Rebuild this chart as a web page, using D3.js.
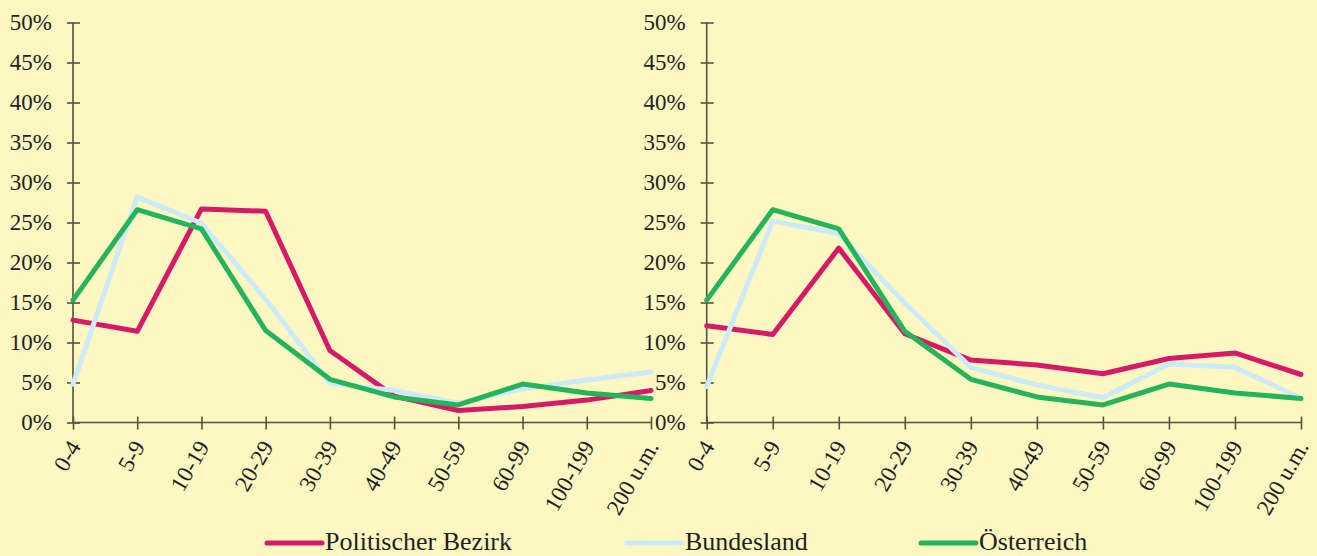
<!DOCTYPE html>
<html>
<head>
    <meta charset="UTF-8" />
    <style>
        body { margin: 0; background: #fdf7c2; }
        svg { display: block; }
        text { font-family: "Liberation Serif", "Times New Roman", serif; fill: #231f20; }
        .axis path, .axis line { stroke: #55523f; stroke-width: 1.6px; }
        .axis text { font-size: 23px; }
        .series { fill: none; stroke-width: 5px; stroke-linejoin: round; stroke-linecap: round; }
        .legend text { font-size: 26px; }
    </style>
    <script src="https://d3js.org/d3.v7.min.js"></script>
</head>
<body>
    <svg width="1317" height="556"></svg>
    <script>
        // age groups (years)
        var categories = ["0-4", "5-9", "10-19", "20-29", "30-39", "40-49", "50-59", "60-99", "100-199", "200 u.m."];
        var yTicks = [0, 5, 10, 15, 20, 25, 30, 35, 40, 45, 50];

        var seriesNames = ["Politischer Bezirk", "Bundesland", "Österreich"];
        var colors = ["#d61a68", "#cdeaf8", "#25b35b"];

        // left chart
        var leftBezirk     = [12.8, 11.4, 26.7, 26.4, 9.0, 3.3, 1.5, 2.0, 2.8, 4.0];
        var leftBundesland = [4.8, 28.2, 24.9, 15.4, 4.9, 4.0, 2.4, 4.2, 5.3, 6.3];
        var leftOesterreich = [15.3, 26.6, 24.2, 11.5, 5.4, 3.2, 2.2, 4.8, 3.7, 3.0];

        // right chart
        var rightBezirk     = [12.1, 11.0, 21.8, 11.1, 7.8, 7.2, 6.1, 8.0, 8.7, 6.0];
        var rightBundesland = [4.5, 25.2, 23.6, 14.9, 6.9, 4.7, 3.1, 7.3, 6.9, 3.0];
        var rightOesterreich = [15.3, 26.6, 24.2, 11.4, 5.4, 3.2, 2.2, 4.8, 3.7, 3.0];

        var svg = d3.select("svg");

        var y = d3.scaleLinear().domain([0, 50]).range([422.5, 22.5]);

        function drawPanel(x0, x1, data) {
            var x = d3.scalePoint().domain(categories).range([x0, x1]);
            var g = svg.append("g");

            var yAxis = g.append("g")
                .attr("class", "axis")
                .attr("transform", "translate(" + x0 + ",0)")
                .call(d3.axisLeft(y).tickValues(yTicks).tickSizeOuter(0).tickSize(6).tickPadding(15)
                    .tickFormat(function(d) { return d + "%"; }));
            yAxis.selectAll(".tick line").attr("x1", -6).attr("x2", 7);
            yAxis.select(".domain").attr("d", "M0," + y(50) + "V" + y(0));

            var xAxis = g.append("g")
                .attr("class", "axis")
                .attr("transform", "translate(0," + y(0) + ")")
                .call(d3.axisBottom(x).tickSizeOuter(0).tickSize(6));
            xAxis.selectAll(".tick line").attr("y1", -6).attr("y2", 7);
            xAxis.select(".domain").attr("d", "M" + x0 + ",0H" + x1);
            xAxis.selectAll(".tick text")
                .attr("text-anchor", "end")
                .attr("y", 0)
                .attr("dy", 0)
                .attr("transform", "translate(8,24) rotate(-60)");

            var line = d3.line()
                .x(function(d, i) { return x(categories[i]); })
                .y(function(d) { return y(d); });

            data.forEach(function(vals, i) {
                g.append("path")
                    .attr("class", "series")
                    .attr("d", line(vals))
                    .attr("stroke", colors[i]);
            });
        }

        drawPanel(73, 651, [leftBezirk, leftBundesland, leftOesterreich]);
        drawPanel(706.7, 1301, [rightBezirk, rightBundesland, rightOesterreich]);

        // legend
        var legendX = [267, 627, 921];
        var legend = svg.append("g").attr("class", "legend");
        seriesNames.forEach(function(name, i) {
            legend.append("line")
                .attr("x1", legendX[i]).attr("x2", legendX[i] + 55)
                .attr("y1", 543).attr("y2", 543)
                .attr("stroke", colors[i])
                .attr("stroke-width", 5)
                .attr("stroke-linecap", "round");
            legend.append("text")
                .attr("x", legendX[i] + 58)
                .attr("y", 550)
                .text(name);
        });
    </script>
</body>
</html>
